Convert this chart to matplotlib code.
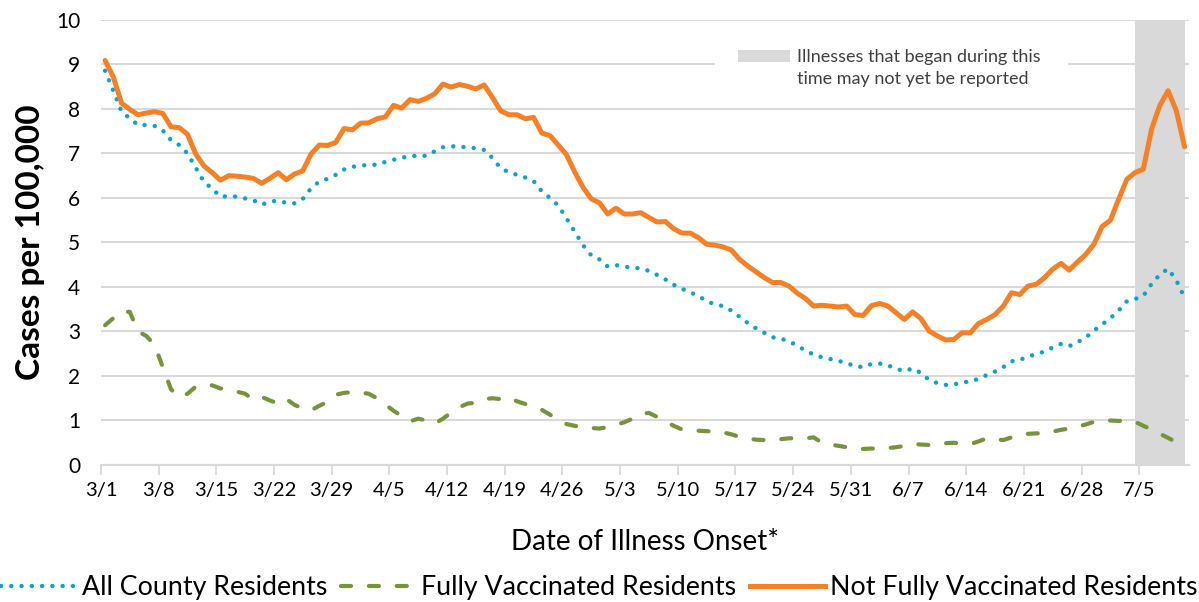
import numpy as np
import pandas as pd
import matplotlib
matplotlib.use("Agg")
import matplotlib.pyplot as plt
from matplotlib.patches import Rectangle
from matplotlib.lines import Line2D

plt.rcParams['font.family'] = ['Lato', 'DejaVu Sans']

# daily values, 3/1 to 7/10
dates = pd.date_range("2021-03-01", "2021-07-10", freq="D")

not_vax = [9.09, 8.72, 8.13, 7.99, 7.87, 7.91, 7.94, 7.90, 7.60, 7.58,
           7.43, 6.99, 6.72, 6.57, 6.40, 6.50, 6.49, 6.47, 6.44, 6.33,
           6.44, 6.57, 6.41, 6.54, 6.61, 6.99, 7.19, 7.18, 7.25, 7.56,
           7.53, 7.68, 7.69, 7.78, 7.82, 8.08, 8.02, 8.21, 8.17, 8.24,
           8.34, 8.56, 8.49, 8.55, 8.51, 8.45, 8.54, 8.26, 7.96, 7.87,
           7.87, 7.78, 7.81, 7.46, 7.40, 7.19, 6.97, 6.58, 6.24, 5.98,
           5.89, 5.64, 5.77, 5.64, 5.64, 5.67, 5.56, 5.46, 5.47, 5.31,
           5.21, 5.21, 5.11, 4.96, 4.94, 4.90, 4.83, 4.62, 4.47, 4.34,
           4.21, 4.10, 4.10, 4.02, 3.86, 3.74, 3.57, 3.59, 3.57, 3.55,
           3.57, 3.38, 3.36, 3.58, 3.63, 3.57, 3.42, 3.27, 3.44, 3.29,
           3.01, 2.90, 2.81, 2.82, 2.97, 2.97, 3.18, 3.27, 3.38, 3.57,
           3.87, 3.83, 4.02, 4.06, 4.21, 4.40, 4.53, 4.38, 4.56, 4.73,
           4.96, 5.36, 5.50, 5.97, 6.42, 6.57, 6.65, 7.55, 8.08, 8.41,
           7.96, 7.15]

all_county = [8.86, 8.41, 7.94, 7.79, 7.64, 7.64, 7.62, 7.52, 7.30, 7.19,
              7.00, 6.68, 6.36, 6.21, 6.03, 6.04, 6.03, 5.99, 5.95, 5.85,
              5.92, 5.94, 5.89, 5.88, 5.98, 6.22, 6.37, 6.43, 6.52, 6.64,
              6.70, 6.73, 6.74, 6.75, 6.81, 6.86, 6.90, 6.95, 6.94, 6.95,
              7.05, 7.14, 7.16, 7.16, 7.13, 7.12, 7.08, 6.90, 6.67, 6.58,
              6.52, 6.46, 6.38, 6.15, 6.00, 5.83, 5.54, 5.24, 4.94, 4.71,
              4.62, 4.46, 4.49, 4.46, 4.43, 4.42, 4.36, 4.27, 4.17, 4.05,
              3.96, 3.88, 3.80, 3.68, 3.61, 3.57, 3.47, 3.33, 3.19, 3.07,
              2.97, 2.87, 2.84, 2.78, 2.68, 2.57, 2.48, 2.42, 2.38, 2.34,
              2.29, 2.22, 2.20, 2.27, 2.28, 2.24, 2.16, 2.11, 2.17, 2.07,
              1.91, 1.84, 1.80, 1.81, 1.86, 1.87, 1.94, 2.02, 2.10, 2.20,
              2.33, 2.36, 2.44, 2.49, 2.55, 2.64, 2.72, 2.67, 2.76, 2.86,
              3.02, 3.16, 3.30, 3.47, 3.68, 3.73, 3.80, 4.07, 4.28, 4.41,
              4.15, 3.76]

fully_vax = [3.14, 3.30, 3.45, 3.44, 3.00, 2.90, 2.70, 2.20, 1.70, 1.52,
             1.60, 1.76, 1.80, 1.79, 1.72, 1.69, 1.65, 1.60, 1.47, 1.53,
             1.45, 1.38, 1.48, 1.35, 1.27, 1.23, 1.33, 1.42, 1.58, 1.62,
             1.64, 1.63, 1.60, 1.50, 1.36, 1.22, 1.10, 0.98, 1.04, 1.00,
             0.93, 1.04, 1.18, 1.30, 1.38, 1.40, 1.48, 1.50, 1.48, 1.52,
             1.43, 1.37, 1.31, 1.24, 1.13, 1.02, 0.92, 0.88, 0.84, 0.83,
             0.82, 0.85, 0.90, 0.96, 1.04, 1.15, 1.17, 1.08, 0.98, 0.88,
             0.80, 0.78, 0.77, 0.76, 0.75, 0.73, 0.69, 0.63, 0.59, 0.57,
             0.56, 0.56, 0.58, 0.60, 0.60, 0.60, 0.62, 0.50, 0.46, 0.43,
             0.40, 0.37, 0.36, 0.37, 0.37, 0.38, 0.40, 0.43, 0.47, 0.46,
             0.45, 0.46, 0.49, 0.50, 0.48, 0.47, 0.53, 0.60, 0.58, 0.56,
             0.62, 0.68, 0.70, 0.71, 0.71, 0.75, 0.79, 0.82, 0.86, 0.91,
             0.97, 0.97, 1.00, 0.99, 1.00, 0.97, 0.88, 0.80, 0.70, 0.61,
             0.51, 0.45]

not_reported_start = "2021-07-04"
note_text = "Illnesses that began during this\ntime may not yet be reported"

blue = "#0ca4c6"
green = "#77933c"
orange = "#f58025"
grid_gray = "#d9d9d9"

x = np.arange(len(dates))

fig = plt.figure(figsize=(11.99, 6.02), dpi=100)
ax = fig.add_axes([0.0842, 0.2276, 0.9072, 0.7392])

# shaded "may not be reported" area
shade_start = list(dates).index(pd.Timestamp(not_reported_start))
ax.axvspan(shade_start, len(dates) - 0.95, color=grid_gray, lw=0, zorder=1)

ax.plot(x, all_county, color=blue, lw=3.2, linestyle=(0, (0.01, 2.3)),
        dash_capstyle="round", zorder=3)
ax.plot(x, fully_vax, color=green, lw=3.0, linestyle=(0, (2.4, 4.3)),
        dash_capstyle="round", zorder=3)
ax.plot(x, not_vax, color=orange, lw=3.6, solid_capstyle="round", zorder=4)

ax.set_xlim(-0.5, len(dates) - 0.5)
ax.set_ylim(0, 10)
ax.set_yticks(range(0, 11))
ax.yaxis.grid(True, color=grid_gray, lw=1.5)
ax.set_axisbelow(True)
ax.tick_params(axis="y", length=0, labelsize=15, pad=15)

tick_pos = np.arange(0, len(dates), 7) - 0.5
tick_lbl = [f"{d.month}/{d.day}" for d in dates[::7]]
ax.set_xticks(tick_pos)
ax.set_xticklabels(tick_lbl)
ax.tick_params(axis="x", length=7, width=1.3, color=grid_gray, labelsize=14.5, pad=5)

for s in ["top", "right", "left"]:
    ax.spines[s].set_visible(False)
ax.spines["bottom"].set_color(grid_gray)
ax.spines["bottom"].set_linewidth(1.5)

ax.set_ylabel("Cases per 100,000", fontsize=24, fontweight="bold", labelpad=8)
ax.set_xlabel("Date of Illness Onset*", fontsize=20, labelpad=22)

# note box for the shaded region
ax.add_patch(Rectangle((0.5645, 0.82), 0.3245, 0.131, transform=ax.transAxes,
                       facecolor="white", edgecolor="none", zorder=2))
ax.add_patch(Rectangle((0.5856, 0.9056), 0.0478, 0.027, transform=ax.transAxes,
                       facecolor=grid_gray, edgecolor="none", zorder=2))
ax.text(0.6399, 0.892, note_text, transform=ax.transAxes, fontsize=13,
        color="#404040", va="center", ha="left", linespacing=1.5, zorder=3)

handles = [Line2D([], [], color=blue, lw=3.2, linestyle=(0, (0.01, 2.3)), dash_capstyle="round"),
           Line2D([], [], color=green, lw=3.0, linestyle=(0, (2.4, 4.3)), dash_capstyle="round"),
           Line2D([], [], color=orange, lw=3.6)]
fig.legend(handles, ["All County Residents", "Fully Vaccinated Residents",
                     "Not Fully Vaccinated Residents"],
           loc="lower center", bbox_to_anchor=(0.5, -0.037), ncol=3, frameon=False,
           fontsize=19.3, handlelength=2.8, handletextpad=0.2, columnspacing=0.5)

fig.savefig("out.png", dpi=100)
